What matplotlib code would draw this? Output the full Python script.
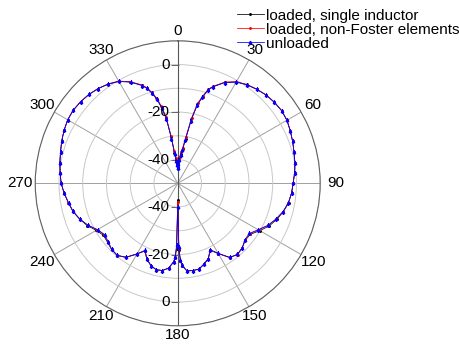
import numpy as np
import matplotlib
matplotlib.use('Agg')
import matplotlib.pyplot as plt
from matplotlib.transforms import offset_copy

plt.rcParams['font.family'] = ['Liberation Sans', 'DejaVu Sans']

# angles in degrees (shared by all three curves)
angles = [0, 2, 4, 6, 8, 10, 12, 14, 16, 18, 20, 25, 30, 35, 40, 45, 50, 55, 60, 65,
          70, 75, 80, 85, 90, 95, 100, 105, 110, 115, 120, 125, 130, 135, 140, 145,
          150, 154, 158, 162, 166, 170, 174, 177, 178, 179, 180,
          181, 182, 183, 186, 190, 194, 198, 202, 206, 210, 215, 220, 225, 230, 235,
          240, 245, 250, 255, 260, 265, 270, 275, 280, 285, 290, 295, 300, 305, 310,
          315, 320, 325, 330, 335, 340, 342, 344, 346, 348, 350, 352, 354, 356, 358, 360]

# gain in dB
unloaded = [-43.5, -42.0, -40.0, -38.0, -36.0, -31.5, -23.0, -16.0, -12.3, -8.7, -6.8,
            -3.2, -0.8, 0.7, 1.7, 2.6, 3.1, 3.4, 3.1, 2.3, 1.5, 0.7, 0.1, -0.6, -1.4,
            -1.9, -2.7, -4.1, -6.0, -8.1, -10.9, -13.2, -13.1, -11.6, -10.9, -11.9, -16.0,
            -18.9, -15.8, -14.3, -12.8, -12.7, -12.9, -15.5, -17.5, -23.0, -40.0,
            -24.0, -19.0, -17.0, -14.2, -12.7, -12.5, -13.6, -15.6, -18.6, -15.7, -12.0,
            -10.4, -10.7, -11.8, -12.4, -11.0, -8.3, -6.1, -4.4, -3.3, -2.0, -0.9, -0.3,
            0.4, 1.1, 2.0, 2.8, 3.5, 3.7, 3.4, 2.9, 2.1, 1.0, -0.5, -3.0, -6.2, -8.0,
            -10.5, -13.5, -17.5, -22.5, -31.0, -37.5, -40.5, -42.5, -43.5]

loaded_nf = [-42.5, -41.0, -39.0, -36.8, -34.8, -30.0, -21.8, -15.2, -11.8, -8.4, -6.5,
             -3.0, -0.6, 0.8, 1.8, 2.6, 3.1, 3.4, 3.1, 2.3, 1.5, 0.7, 0.1, -0.6, -1.4,
             -1.9, -2.7, -4.0, -5.9, -8.0, -10.7, -12.9, -12.9, -11.5, -10.8, -11.8, -15.8,
             -18.7, -15.7, -14.2, -12.8, -12.7, -12.9, -15.4, -17.3, -22.5, -42.0,
             -23.5, -18.8, -16.9, -14.1, -12.7, -12.5, -13.5, -15.4, -18.4, -15.6, -11.9,
             -10.3, -10.6, -11.6, -12.2, -10.8, -8.2, -6.0, -4.3, -3.2, -2.0, -0.9, -0.3,
             0.4, 1.1, 2.0, 2.8, 3.5, 3.7, 3.4, 2.9, 2.1, 1.1, -0.3, -2.8, -5.9, -7.6,
             -10.0, -12.8, -16.7, -21.5, -29.8, -36.5, -39.5, -41.5, -42.5]

loaded_ind = [-43.0, -41.5, -39.5, -37.5, -35.5, -31.0, -22.5, -15.8, -12.1, -8.6, -6.7,
              -3.1, -0.7, 0.7, 1.7, 2.6, 3.1, 3.4, 3.1, 2.3, 1.5, 0.7, 0.1, -0.6, -1.4,
              -1.9, -2.6, -3.9, -5.6, -7.5, -10.1, -12.6, -12.8, -11.6, -10.9, -11.9, -15.8,
              -18.6, -15.6, -14.2, -12.8, -12.7, -12.9, -15.3, -17.2, -22.0, -43.0,
              -22.5, -18.5, -16.8, -14.1, -12.7, -12.5, -13.5, -15.4, -18.3, -15.6, -11.9,
              -10.4, -10.6, -11.4, -11.8, -10.4, -7.9, -6.0, -4.3, -3.2, -2.0, -0.9, -0.3,
              0.4, 1.1, 2.0, 2.8, 3.5, 3.7, 3.4, 2.9, 2.1, 1.0, -0.4, -2.9, -6.1, -7.8,
              -10.3, -13.2, -17.2, -22.0, -30.5, -37.0, -40.0, -42.0, -43.0]

theta_ticks = [0, 30, 60, 90, 120, 150, 180, 210, 240, 270, 300, 330]
theta_labels = ['0', '30', '60', '90', '120', '150', '180', '210', '240', '270', '300', '330']
ring_values = [-40, -30, -20, -10, 0, 10]
r_labels = [0, -20, -40]

fig = plt.figure(figsize=(4.59, 3.45), dpi=100)
ax = fig.add_axes([0.0767, 0.0557, 0.621, 0.826], projection='polar')
ax.set_theta_zero_location('N')
ax.set_theta_direction(-1)
ax.set_ylim(-50, 10)

th = np.deg2rad(angles)
ax.plot(th, loaded_ind, '-', color='black', lw=0.55, marker='.', ms=2.2,
        label='loaded, single inductor', zorder=3)
ax.plot(th, loaded_nf, '-', color='red', lw=0.55, marker='.', ms=2.2,
        label='loaded, non-Foster elements', zorder=4)
ax.plot(th, unloaded, '-', color='blue', lw=0.55, marker='^', ms=1.8,
        label='unloaded', zorder=5)

ax.set_thetagrids(theta_ticks, [''] * len(theta_ticks))
ax.set_rgrids(ring_values)
ax.set_yticklabels([])
ax.xaxis.grid(True, color='#a0a0a0', lw=0.7)
ax.yaxis.grid(True, color='#c8c8c8', lw=0.7)
ax.spines['polar'].set_color('#606060')
ax.spines['polar'].set_linewidth(0.8)

# angle labels just outside the outer ring
for deg, lbl in zip(theta_ticks, theta_labels):
    s = np.sin(np.deg2rad(deg))
    c = np.cos(np.deg2rad(deg))
    d = 9.5 + 6 * s ** 2
    ax.annotate(lbl, xy=(np.deg2rad(deg), 10), xytext=(d * s, d * c),
                textcoords='offset pixels', ha='center', va='center',
                fontsize=11, annotation_clip=False)

# darker vertical axis through the centre
ax.plot([0, 0], [-50, 10], color='#555555', lw=0.8, zorder=2)
ax.plot([np.pi, np.pi], [-50, 10], color='#555555', lw=0.8, zorder=2)

# radial labels, mirrored above and below the centre
tick_tr = offset_copy(ax.transData, fig=fig, x=-3, y=0, units='dots')
for rv in r_labels:
    for t in (0, np.pi):
        ax.annotate(str(rv), xy=(t, rv), xytext=(-6, 0), textcoords='offset points',
                    ha='right', va='center', fontsize=11, zorder=6)
        ax.plot([t], [rv], marker='_', ms=6, mew=0.6, color='#666666', transform=tick_tr)

ax.legend(loc='upper left', bbox_to_anchor=(229 / 459, 1 - 1 / 345),
          bbox_transform=fig.transFigure, frameon=False, fontsize=11,
          borderpad=0, labelspacing=0.0, handlelength=1.8, handletextpad=0.1)

fig.savefig('out.png', dpi=100)
